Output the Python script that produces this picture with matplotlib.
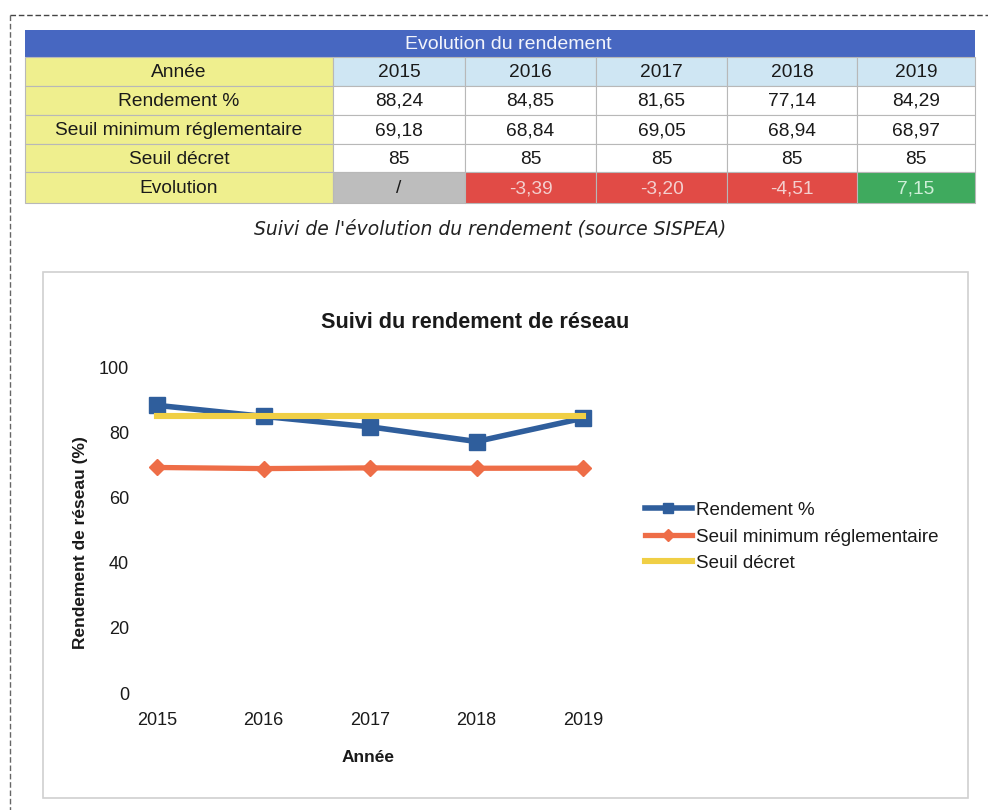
import matplotlib
matplotlib.use('Agg')
import matplotlib.pyplot as plt
from matplotlib.patches import Rectangle

# ---------------- data ----------------
years = [2015, 2016, 2017, 2018, 2019]
rendement = [88.24, 84.85, 81.65, 77.14, 84.29]
seuil_min = [69.18, 68.84, 69.05, 68.94, 68.97]
seuil_decret = [85, 85, 85, 85, 85]
evolution = ['/', '-3,39', '-3,20', '-4,51', '7,15']
row_labels = ['Année', 'Rendement %', 'Seuil minimum réglementaire', 'Seuil décret', 'Evolution']
series_names = ['Rendement %', 'Seuil minimum réglementaire', 'Seuil décret']
table_title = 'Evolution du rendement'
caption = "Suivi de l'évolution du rendement (source SISPEA)"
chart_title = 'Suivi du rendement de réseau'
y_label = 'Rendement de réseau (%)'
x_label = 'Année'
y_ticks = [0, 20, 40, 60, 80, 100]


def fr(v):
    if float(v).is_integer():
        return str(int(v))
    return f'{v:.2f}'.replace('.', ',')


W, H = 988, 810
FONT = 'Liberation Sans'
fig = plt.figure(figsize=(W / 100, H / 100), dpi=100)
fig.patch.set_facecolor('white')

# full-page layout axes in pixel units
bg = fig.add_axes([0, 0, 1, 1])
bg.set_xlim(0, W)
bg.set_ylim(H, 0)
bg.axis('off')

# dashed page border (scan)
bg.plot([10, W], [15, 15], ls=(0, (4, 2)), color='#444444', lw=1.0)
bg.plot([10, 10], [15, H], ls=(0, (4, 2)), color='#666666', lw=1.0)

# ---------------- table ----------------
col_x = [25, 333, 465, 596, 727, 857, 975]
row_y = [30, 57, 86, 115, 144, 172, 203]
yellow = '#EFEF8E'
hdr_blue = '#CFE6F3'
title_blue = '#4767C1'
evo_colors = ['#BDBDBD', '#E14B46', '#E14B46', '#E14B46', '#3FAA5E']
grid_c = '#B8B8B8'

bg.add_patch(Rectangle((col_x[0], row_y[0]), col_x[-1] - col_x[0], row_y[1] - row_y[0],
                       facecolor=title_blue, edgecolor='none'))
bg.text(508, (row_y[0] + row_y[1]) / 2 + 1, table_title,
        color='#F2F4FB', ha='center', va='center', fontsize=14, family=FONT)

table_rows = [
    [str(y) for y in years],
    [fr(v) for v in rendement],
    [fr(v) for v in seuil_min],
    [fr(v) for v in seuil_decret],
    evolution,
]
for r in range(5):
    y0, y1 = row_y[r + 1], row_y[r + 2]
    bg.add_patch(Rectangle((col_x[0], y0), col_x[1] - col_x[0], y1 - y0,
                           facecolor=yellow, edgecolor=grid_c, lw=0.8))
    bg.text((col_x[0] + col_x[1]) / 2, (y0 + y1) / 2 + 1, row_labels[r], ha='center', va='center',
            fontsize=13.8, family=FONT, color='#1a1a1a')
    for c in range(5):
        x0, x1 = col_x[c + 1], col_x[c + 2]
        if r == 0:
            fc = hdr_blue
        elif r == 4:
            fc = evo_colors[c]
        else:
            fc = 'white'
        bg.add_patch(Rectangle((x0, y0), x1 - x0, y1 - y0, facecolor=fc, edgecolor=grid_c, lw=0.8))
        tc = '#1a1a1a'
        if r == 4 and c > 0:
            tc = '#F3D0CF' if c < 4 else '#CFEFD8'
        bg.text((x0 + x1) / 2, (y0 + y1) / 2 + 1, table_rows[r][c], ha='center', va='center',
                fontsize=13.8, family=FONT, color=tc)

bg.text(490, 229, caption, ha='center', va='center', fontsize=13.5, style='italic',
        family='DejaVu Sans', color='#222222')

# chart frame
bg.add_patch(Rectangle((43, 272), 925, 526, facecolor='none', edgecolor='#D0D0D0', lw=1.2))
bg.text(475, 322, chart_title, ha='center', va='center', fontsize=15.6, fontweight='bold',
        family=FONT, color='#1a1a1a')

# ---------------- chart ----------------
L, R, T, B = 140, 600, 367, 693
ax = fig.add_axes([L / W, (H - B) / H, (R - L) / W, (B - T) / H])
ax.set_facecolor('none')
px_per_year = (583 - 157) / 4.0
ax.set_xlim(years[0] - (157 - L) / px_per_year, years[-1] + (R - 583) / px_per_year)
ax.set_ylim(0, 100)
for s in ax.spines.values():
    s.set_visible(False)

c_blue = '#2F5E9C'
c_orange = '#EE6D47'
c_yellow = '#F0CF45'

ax.plot(years, rendement, color=c_blue, lw=4.0, marker='s', markersize=11,
        markeredgecolor=c_blue, clip_on=False, zorder=3, label=series_names[0])
ax.plot(years, seuil_min, color=c_orange, lw=3.8, marker='D', markersize=8.5,
        markeredgecolor=c_orange, clip_on=False, zorder=3, label=series_names[1])
ax.plot(years, seuil_decret, color=c_yellow, lw=4.4, clip_on=False, zorder=4,
        solid_capstyle='projecting', label=series_names[2])

ax.set_xticks(years)
ax.set_xticklabels([str(y) for y in years])
ax.set_yticks(y_ticks)
ax.tick_params(axis='both', length=0, labelsize=13, colors='#1a1a1a')
ax.tick_params(axis='y', pad=8)
ax.tick_params(axis='x', pad=14)
for lab in ax.get_xticklabels() + ax.get_yticklabels():
    lab.set_family(FONT)

ax.set_ylabel(y_label, fontsize=12.5, fontweight='bold', family=FONT, color='#1a1a1a')
ax.yaxis.set_label_coords((88 - L) / (R - L), (B - 543) / (B - T))
ax.set_xlabel(x_label, fontsize=12.5, fontweight='bold', family=FONT, color='#1a1a1a')
ax.xaxis.set_label_coords((368 - L) / (R - L), (B - 757) / (B - T))
ax.xaxis.label.set_va('center')

leg = ax.legend(loc='upper left', bbox_to_anchor=(628 / W, (H - 485) / H),
                bbox_transform=fig.transFigure, frameon=False,
                prop={'family': FONT, 'size': 13.5}, handlelength=2.5,
                handletextpad=0.2, labelspacing=0.5, markerscale=0.7)
for t in leg.get_texts():
    t.set_color('#1a1a1a')

fig.savefig('out.png', dpi=100, facecolor='white')
